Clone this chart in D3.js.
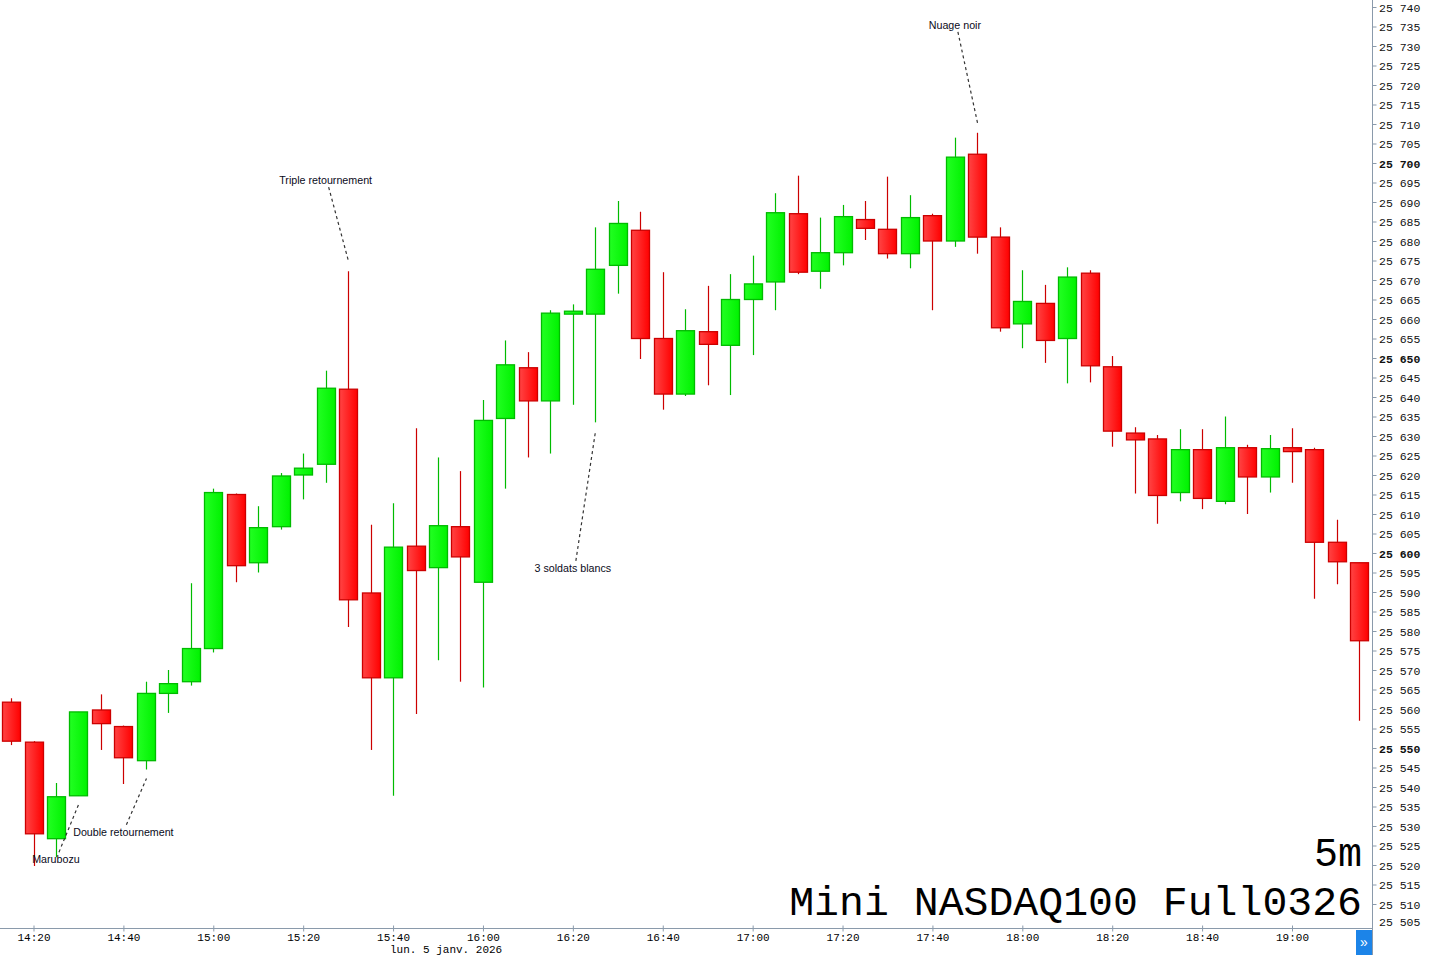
<!DOCTYPE html>
<html><head><meta charset="utf-8">
<script src="https://cdn.jsdelivr.net/npm/d3@7"></script>
<style>body{margin:0;background:#fff;overflow:hidden}svg{display:block}</style>
</head><body><svg id="c" width="1432" height="955"></svg>
<script>
const times = ["14:15","14:20","14:25","14:30","14:35","14:40","14:45","14:50","14:55","15:00",
"15:05","15:10","15:15","15:20","15:25","15:30","15:35","15:40","15:45","15:50",
"15:55","16:00","16:05","16:10","16:15","16:20","16:25","16:30","16:35","16:40",
"16:45","16:50","16:55","17:00","17:05","17:10","17:15","17:20","17:25","17:30",
"17:35","17:40","17:45","17:50","17:55","18:00","18:05","18:10","18:15","18:20",
"18:25","18:30","18:35","18:40","18:45","18:50","18:55","19:00","19:05","19:10","19:15"];
const open = [25561.75,25551.5,25526.75,25537.75,25559.75,25555.5,25546.75,25564,25567,25575.5,
25615,25597.5,25606.75,25620,25622.75,25642,25589.75,25568,25601.75,25596.25,
25606.75,25592.5,25634.5,25647.5,25639,25661.25,25661.25,25673.75,25682.75,25655,
25640.75,25656.75,25653.25,25665,25669.5,25687,25672.25,25677,25685.5,25683,
25676.75,25686.5,25680,25702.25,25681,25658.75,25664,25655,25671.75,25647.75,
25630.75,25629.25,25615.5,25626.5,25613.25,25627,25619.5,25627,25626.5,25602.75,25597.5];
const high = [25562.75,25551.75,25541,25559.25,25563.75,25555.75,25567,25570,25592.25,25616.5,
25615.25,25612,25620.5,25625.5,25646.75,25672.25,25607.25,25612.75,25632,25624.5,
25621,25639.25,25654.5,25651.5,25662.25,25663.75,25683.5,25690.25,25687.5,25672,
25662.5,25668.5,25671.5,25676.25,25692.25,25696.75,25686,25689.25,25690.25,25696.5,
25691.75,25687,25706.5,25707.75,25683.5,25672.5,25668.75,25673.25,25672.5,25650.5,
25632.25,25630.25,25631.75,25631.75,25635,25627.75,25630.25,25632,25627,25608.5,25597.5];
const low = [25550.75,25519.75,25522,25537.75,25549.5,25540.75,25544.5,25559,25566,25574.5,
25592.5,25595,25606,25613.75,25618,25581,25549.5,25537.75,25558.75,25572.5,
25567,25565.5,25616.5,25624.5,25625.5,25638,25633.5,25666.5,25649.75,25636.75,
25640.25,25643,25640.5,25650.75,25662.25,25671.5,25667.75,25673.75,25680.25,25675.5,
25673,25662.25,25678.5,25676.75,25656.75,25652.5,25648.75,25643.5,25643.75,25627.25,
25615.25,25607.5,25613.25,25611.25,25612.5,25610,25615.5,25618,25588.25,25592,25557];
const close = [25551.75,25528,25537.5,25559.25,25556.25,25547.5,25564,25566.5,25575.5,25615.5,
25596.75,25606.5,25619.75,25621.75,25642.25,25588,25568,25601.5,25595.5,25607,
25599,25634,25648.25,25639,25661.5,25662,25672.75,25684.5,25655,25640.75,
25657,25653.5,25665,25669,25687.25,25672,25677,25686.25,25683.25,25676.75,
25686,25680,25701.5,25681,25657.75,25664.5,25654.5,25670.75,25648,25631.25,
25629,25614.75,25626.5,25614,25627,25619.5,25626.75,25626,25602.75,25597.75,25577.5];

const xTickLabels = ["14:20","14:40","15:00","15:20","15:40","16:00","16:20","16:40","17:00","17:20","17:40","18:00","18:20","18:40","19:00"];
const yTickValues = d3.range(25505, 25741, 5);
const dateLabel = "lun. 5 janv. 2026";
const title = "Mini NASDAQ100 Full0326";
const period = "5m";

const annLabels = ["Marubozu","Double retournement","Triple retournement","3 soldats blancs","Nuage noir"];
const annCandle = [3, 6, 15, 26, 43];
const annSide = ["below","below","above","below","above"];
const annTextPrice = [25521.5, 25528.5, 25695.6, 25596.2, 25735.4];

const parse = s => { const [h,m] = s.split(":").map(Number); return new Date(2026,0,5,h,m); };
const data = times.map((t,i)=>({t:parse(t), o:open[i], h:high[i], l:low[i], c:close[i]}));

const svg = d3.select("#c");
const plotRight = 1372.5, axisY = 928.5;
const x = d3.scaleTime().domain([parse("14:20"), parse("19:00")]).range([33.5, 1292]);
const y = d3.scaleLinear().domain([25505, 25740]).range([923.5, 7]);

const defs = svg.append("defs");
function grad(id, c1, c2){
  const g = defs.append("linearGradient").attr("id", id).attr("x1","0").attr("x2","1").attr("y1","0").attr("y2","0");
  g.append("stop").attr("offset","0").attr("stop-color", c1);
  g.append("stop").attr("offset","1").attr("stop-color", c2);
}
grad("gUp", "#22ff22", "#00f200");
grad("gDn", "#ff4444", "#ff0000");
defs.append("clipPath").attr("id","plot").append("rect").attr("x",0).attr("y",0).attr("width",plotRight).attr("height",axisY);

const plot = svg.append("g").attr("clip-path","url(#plot)");
const bw = 18;
const candles = plot.selectAll("g.cd").data(data).enter().append("g").attr("class","cd");
candles.each(function(d){
  const g = d3.select(this);
  const up = d.c >= d.o;
  const cx = Math.round(x(d.t)) + 0.5;
  const stroke = up ? "#00bb00" : "#cc0000";
  g.append("line").attr("x1",cx).attr("x2",cx).attr("y1",y(d.h)).attr("y2",y(d.l))
    .attr("stroke",stroke).attr("stroke-width",1.2);
  const top = y(Math.max(d.o,d.c)), bot = y(Math.min(d.o,d.c));
  g.append("rect").attr("x", cx - bw/2).attr("y", top).attr("width", bw).attr("height", Math.max(1, bot-top))
    .attr("fill", up ? "url(#gUp)" : "url(#gDn)").attr("stroke", stroke).attr("stroke-width",1.3);
});

// annotations
annLabels.forEach((lab,k)=>{
  const d = data[annCandle[k]];
  const tx = x(data[annCandle[k]-1].t), ty = y(annTextPrice[k]);
  const cx = Math.round(x(d.t)) + 0.5;
  let x1 = tx + 3, y1, y2;
  if (annSide[k] === "below") { y1 = ty - 7; y2 = y(d.l) + 9; }
  else { y1 = ty + 7; y2 = y(d.h) - 10; }
  plot.append("line").attr("x1",x1).attr("y1",y1).attr("x2",cx).attr("y2",y2)
    .attr("stroke","#333").attr("stroke-width",1.2).attr("stroke-dasharray","3,3");
  plot.append("text").attr("x",tx).attr("y",ty+4).attr("text-anchor","middle")
    .attr("font-family","Arial, 'Liberation Sans', sans-serif").attr("font-size","10.7px")
    .attr("fill","#0a0a1a").text(lab);
});

// title texts
svg.append("text").attr("x",1362).attr("y",866).attr("text-anchor","end")
  .attr("font-family","'Courier New','Liberation Mono',monospace").attr("font-size","40px").attr("fill","#000").text(period);
svg.append("text").attr("x",1362).attr("y",915).attr("text-anchor","end")
  .attr("font-family","'Courier New','Liberation Mono',monospace").attr("font-size","41.5px").attr("fill","#000").text(title);

// right axis
const fmt = d3.formatLocale({decimal:",", thousands:" ", grouping:[3], currency:["",""]}).format(",d");
const yAxis = d3.axisRight(y).tickValues(yTickValues).tickSize(4).tickSizeOuter(0).tickFormat(fmt);
const ya = svg.append("g").attr("transform",`translate(${plotRight},0)`).call(yAxis);
ya.select(".domain").remove();
ya.selectAll(".tick line").attr("stroke","#8a9aab");
ya.selectAll(".tick text").attr("x",6.5).attr("dy","0.35em")
  .attr("font-family","'Courier New','Liberation Mono',monospace").attr("font-size","11.5px").attr("fill","#111")
  .attr("font-weight", d => d % 50 === 0 ? "bold" : "normal");
ya.selectAll(".tick").filter(d=>y(d) > 921).each(function(d){
  d3.select(this).select("text").attr("y", 921.5 - y(d));
  d3.select(this).select("line").remove();
});
svg.append("line").attr("x1",plotRight).attr("x2",plotRight).attr("y1",0).attr("y2",axisY+27)
  .attr("stroke","#8a9aab").attr("stroke-width",1);

// bottom axis
const xAxis = d3.axisBottom(x).tickValues(xTickLabels.map(parse)).tickSize(4).tickSizeOuter(0)
  .tickFormat(d3.timeFormat("%H:%M"));
const xa = svg.append("g").attr("transform",`translate(0,${axisY})`).call(xAxis);
xa.select(".domain").remove();
xa.selectAll(".tick line").attr("stroke","#8a9aab").attr("y1",-3).attr("y2",3);
xa.selectAll(".tick text").attr("y",12.5).attr("dy","0")
  .attr("font-family","'Courier New','Liberation Mono',monospace").attr("font-size","11px").attr("fill","#000");
svg.append("line").attr("x1",0).attr("x2",plotRight).attr("y1",axisY).attr("y2",axisY)
  .attr("stroke","#8a9aab").attr("stroke-width",1);
svg.append("text").attr("x",390).attr("y",953).attr("font-family","'Courier New','Liberation Mono',monospace")
  .attr("font-size","11px").attr("fill","#000").text(dateLabel);

// scroll button
svg.append("rect").attr("x",1356).attr("y",930).attr("width",16).attr("height",25).attr("fill","#1c84e8");
svg.append("text").attr("x",1364).attr("y",947).attr("text-anchor","middle").attr("fill","#fff")
  .attr("font-family","Arial, sans-serif").attr("font-size","14px").text("»");
</script></body></html>
